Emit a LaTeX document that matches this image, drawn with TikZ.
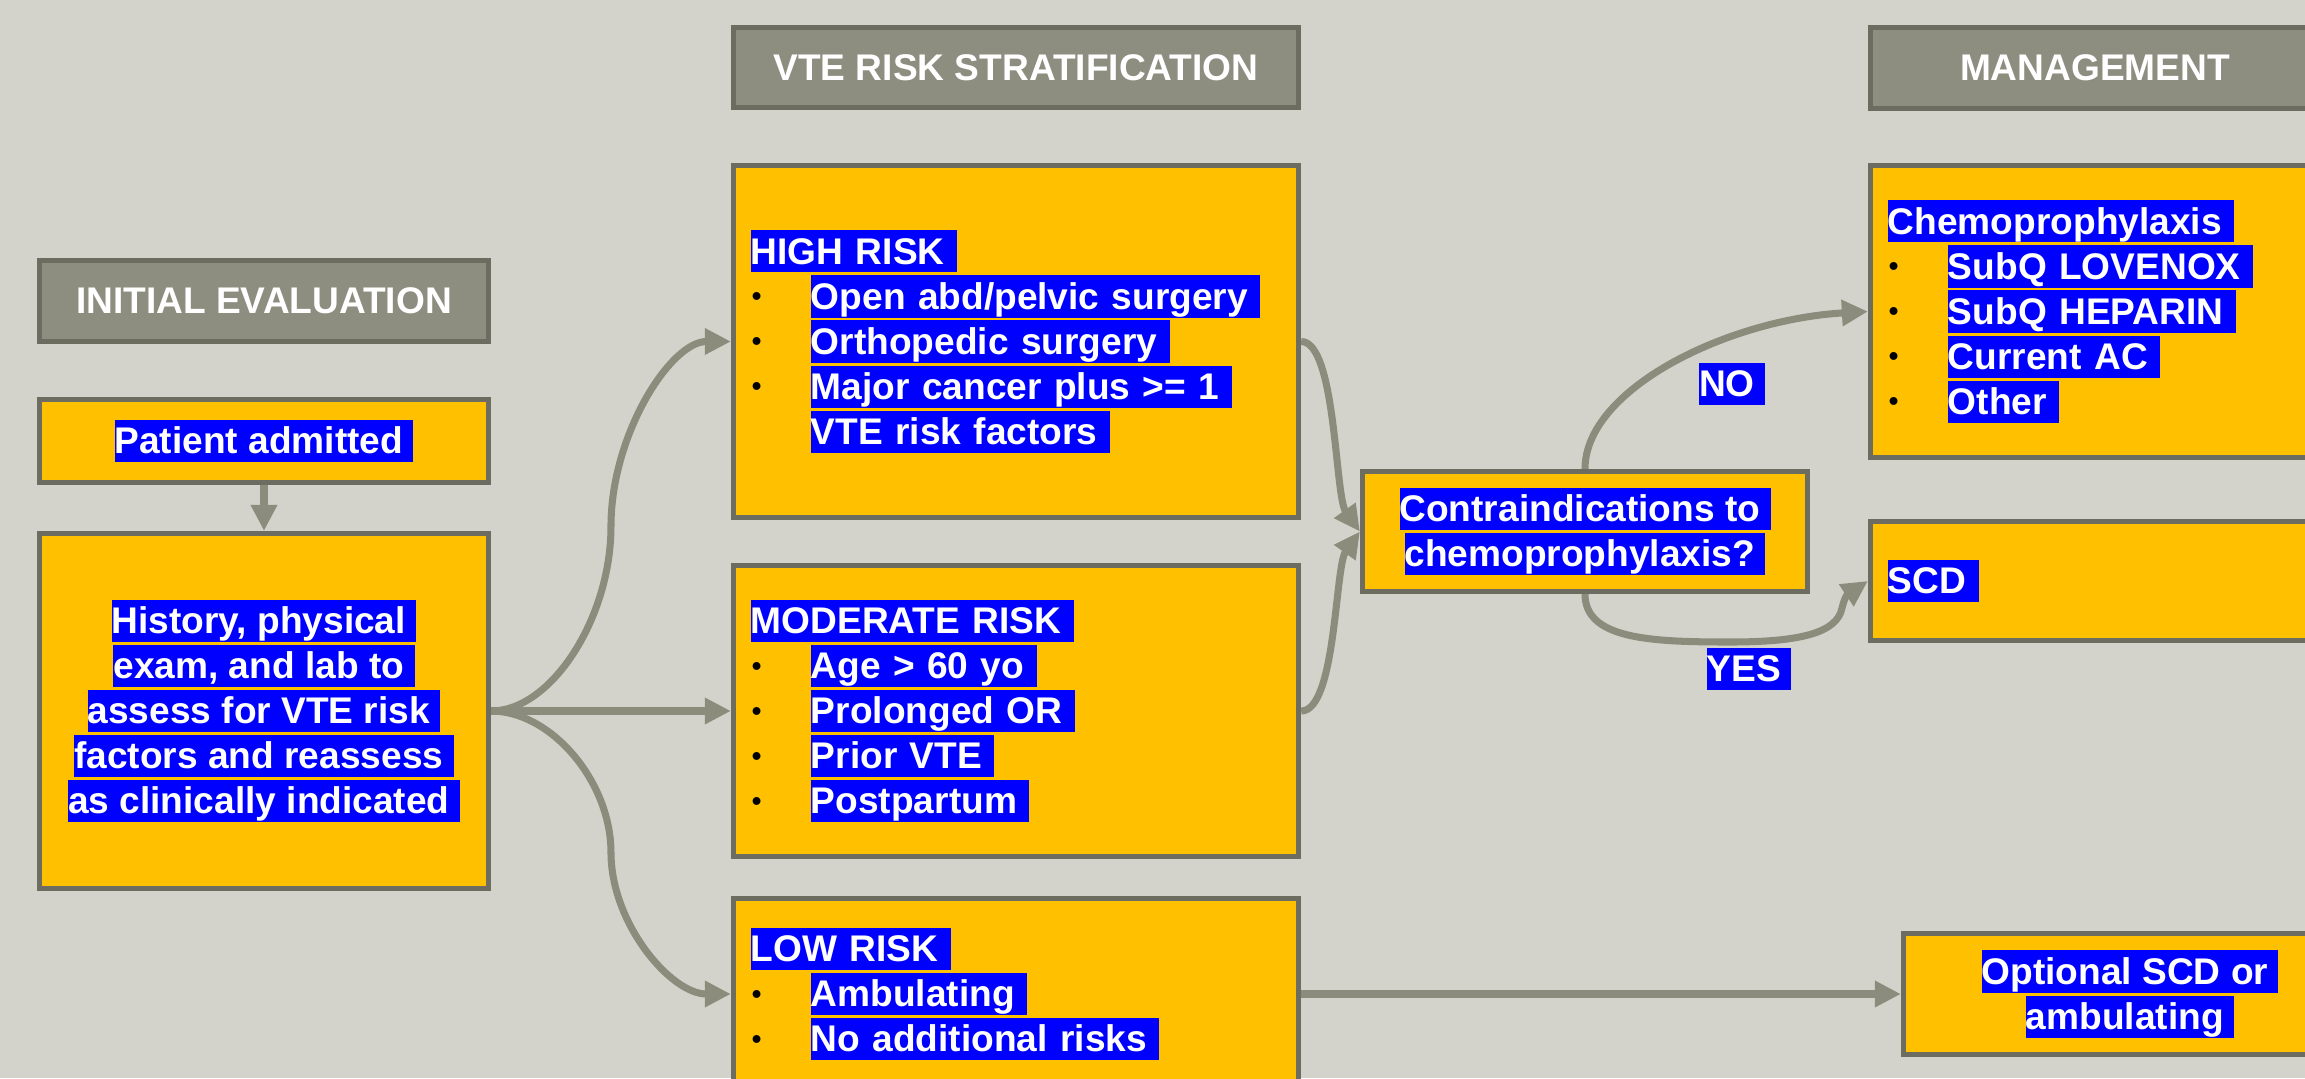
\documentclass[tikz,border=0pt]{standalone}
\usepackage{fontspec}
\setmainfont{Liberation Sans}
\usetikzlibrary{arrows.meta,calc}
\definecolor{bgc}{RGB}{211,211,204}
\definecolor{boxfill}{RGB}{255,192,0}
\definecolor{boxline}{RGB}{108,108,96}
\definecolor{hdrfill}{RGB}{142,142,128}
\definecolor{arrc}{RGB}{140,140,124}
\definecolor{hlblue}{RGB}{0,0,255}
\newcommand{\hstrut}{\rule[-2.3pt]{0pt}{11.95pt}}
\newcommand{\hl}[1]{{\setlength{\fboxsep}{0pt}\colorbox{hlblue}{\hstrut#1\ }}}
\newcommand{\bul}{\makebox[0.6cm][l]{\hspace*{0.3pt}\raisebox{1pt}{\textcolor{black}{\fontsize{7.8}{8}\selectfont •}}}}
\tikzset{
  base/.style={draw=boxline, line width=1.42pt, rectangle, inner sep=0pt, text=white,
    font=\fontsize{10.55}{12.8}\selectfont\bfseries},
  hdr/.style={base, fill=hdrfill, minimum height=0.81cm},
  cbox/.style={base, fill=boxfill, align=center},
  lbox/.style={base, fill=boxfill, align=left, inner xsep=0.175cm},
  lbl/.style={inner sep=0pt, text=white, font=\fontsize{10.55}{12.8}\selectfont\bfseries},
  arr/.style={draw=arrc, line width=2pt, -{Triangle[length=0.26cm,width=0.25cm]}}
}
\begin{document}
\begin{tikzpicture}[x=0.01cm, y=-0.01cm]
\useasboundingbox (0,0) rectangle (2305,1078);
\fill[bgc] (0,0) rectangle (2305,1078);

% column 1
\node[hdr, minimum width=4.49cm] (hinit) at (264,301) {INITIAL EVALUATION};
\node[cbox, minimum width=4.49cm, minimum height=0.82cm] (pat) at (264,441) {\hl{Patient admitted}};
\node[cbox, minimum width=4.49cm, minimum height=3.55cm] (hist) at (264,711)
  {\hl{History, physical}\\\hl{exam, and lab to}\\\hl{assess for VTE risk}\\\hl{factors and reassess}\\\hl{as clinically indicated}};

% column 2
\node[hdr, minimum width=5.65cm, minimum height=0.80cm] (hvte) at (1016,67.5) {VTE RISK STRATIFICATION};
\node[lbox, text width=5.30cm, minimum height=3.52cm] (high) at (1016,341.5)
  {\hl{HIGH RISK}\\\bul\hl{Open abd/pelvic surgery}\\\bul\hl{Orthopedic surgery}\\\bul\hl{Major cancer plus >= 1}\\\hspace*{0.6cm}\hl{VTE risk factors}};
\node[lbox, text width=5.30cm, minimum height=2.91cm] (mod) at (1016,711)
  {\hl{MODERATE RISK}\\\bul\hl{Age > 60 yo}\\\bul\hl{Prolonged OR}\\\bul\hl{Prior VTE}\\\bul\hl{Postpartum}};
\node[lbox, text width=5.30cm, minimum height=1.91cm] (low) at (1016,994)
  {\hl{LOW RISK}\\\bul\hl{Ambulating}\\\bul\hl{No additional risks}};

% decision
\node[cbox, minimum width=4.45cm, minimum height=1.20cm] (contra) at (1585,531.5)
  {\hl{Contraindications to}\\\hl{chemoprophylaxis?}};

% column 3
\node[hdr, minimum width=4.49cm] (hmgmt) at (2095,68) {MANAGEMENT};
\node[lbox, text width=4.14cm, minimum height=2.92cm] (chemo) at (2095,311.5)
  {\hl{Chemoprophylaxis}\\\bul\hl{SubQ LOVENOX}\\\bul\hl{SubQ HEPARIN}\\\bul\hl{Current AC}\\\bul\hl{Other}};
\node[lbox, text width=4.14cm, minimum height=1.19cm] (scd) at (2095,581) {\hl{SCD}};
\node[cbox, minimum width=4.53cm, minimum height=1.20cm] (opt) at (2130,994)
  {\hl{Optional SCD or}\\\hl{ambulating}};

% labels
\node[lbl] (no) at (1732,384) {\hl{NO}};
\node[lbl] (yes) at (1749,669) {\hl{YES}};

% connectors
\draw[arr] (pat.south) -- (hist.north);
\coordinate (m1) at ($(hist.east)!0.5!(high.west)$);
\coordinate (m2) at ($(hist.east)!0.5!(low.west)$);
\draw[arr] (hist.east) .. controls +(60,0) and +(0,92) .. (m1) .. controls +(0,-92) and +(-60,0) .. (high.west);
\draw[arr] (hist.east) -- (mod.west);
\draw[arr] (hist.east) .. controls +(60,0) and +(0,-71) .. (m2) .. controls +(0,71) and +(-60,0) .. (low.west);
\draw[arr] (high.east) .. controls +(35,0) and +(-25,-35) .. (contra.west);
\draw[arr] (mod.east) .. controls +(35,0) and +(-25,35) .. (contra.west);
\draw[arr] (low.east) -- (opt.west);
\draw[arr] (contra.north) .. controls +(0,-80) and +(-140,8) .. (chemo.west);
\coordinate (ym) at (1730,642);
\coordinate (yk) at (1842,608);
\draw[arr] (contra.south) .. controls +(0,45) and +(-80,0) .. (ym) .. controls +(70,0) and +(-5,25) .. (yk) .. controls +(5,-20) and +(-15,10) .. (scd.west);
\end{tikzpicture}
\end{document}
